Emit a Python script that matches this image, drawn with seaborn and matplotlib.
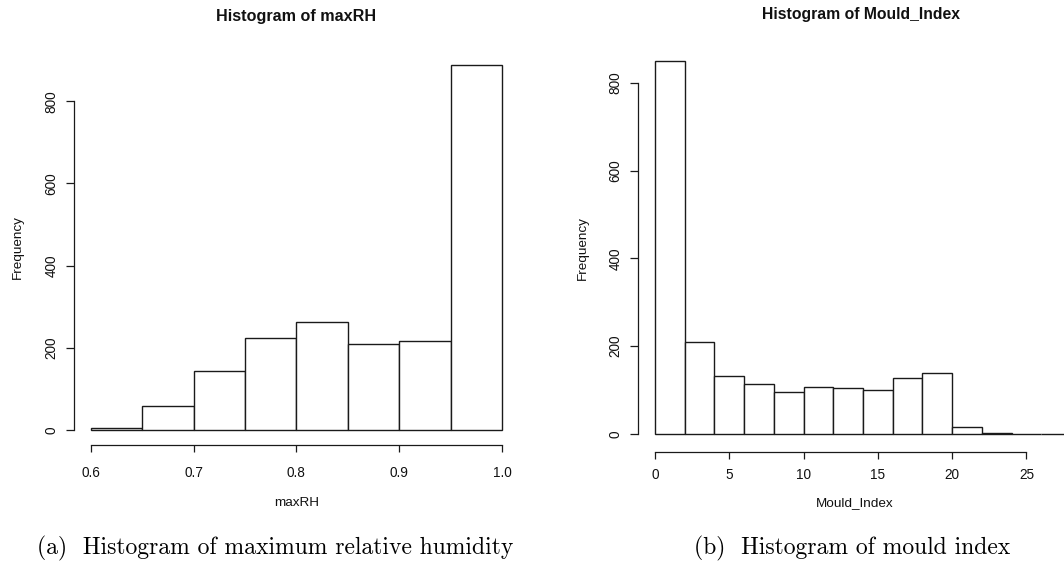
import numpy as np
import matplotlib
matplotlib.use("Agg")
import matplotlib.pyplot as plt
import seaborn as sns

# ---- data ----
rh_edges = [0.60, 0.65, 0.70, 0.75, 0.80, 0.85, 0.90, 0.95, 1.00]
rh_counts = [4, 59, 143, 223, 263, 208, 216, 889]
rh_ticks = [0.6, 0.7, 0.8, 0.9, 1.0]
rh_tick_labels = ["0.6", "0.7", "0.8", "0.9", "1.0"]

mi_edges = [0, 2, 4, 6, 8, 10, 12, 14, 16, 18, 20, 22, 24, 26, 28]
mi_counts = [849, 210, 132, 114, 95, 108, 105, 101, 127, 139, 16, 2, 0, 0]
mi_ticks = [0, 5, 10, 15, 20, 25]
mi_tick_labels = ["0", "5", "10", "15", "20", "25"]

freq_ticks = [0, 200, 400, 600, 800]
freq_labels = ["0", "200", "400", "600", "800"]

titles = ["Histogram of maxRH", "Histogram of Mould_Index"]
xlabels = ["maxRH", "Mould_Index"]
captions = ["(a)  Histogram of maximum relative humidity", "(b)  Histogram of mould index"]

sns.set_theme(style="ticks")
plt.rcParams["font.family"] = ["Liberation Sans", "DejaVu Sans"]

W, H = 1064, 573
fig = plt.figure(figsize=(W / 100, H / 100), dpi=100)
fig.patch.set_facecolor("white")


def px_axes(left, top, right, bottom):
    return fig.add_axes([left / W, 1 - bottom / H, (right - left) / W, (bottom - top) / H])


ax1 = px_axes(74.3, 50.0, 518.5, 444.6)
ax2 = px_axes(638.4, 46.4, 1087.7, 452.3)

panels = [
    (ax1, rh_edges, rh_counts, rh_ticks, rh_tick_labels, (0.584, 1.016), (-35.6, 924.6), 10.0),
    (ax2, mi_edges, mi_counts, mi_ticks, mi_tick_labels, (-1.12, 29.12), (-41.7, 883.0), 6.0),
]

edge_col = "#1a1a1a"
for ax, edges, counts, ticks, tlabels, xlim, ylim, xpad in panels:
    edges_a = np.asarray(edges, dtype=float)
    centers = (edges_a[:-1] + edges_a[1:]) / 2
    sns.histplot(x=centers, weights=counts, bins=edges, ax=ax, color="white",
                 edgecolor=edge_col, linewidth=1.0, alpha=1.0, fill=True)
    ax.set_facecolor("white")
    ax.set_xlim(*xlim)
    ax.set_ylim(*ylim)
    for s in ["top", "right"]:
        ax.spines[s].set_visible(False)
    for s in ["left", "bottom"]:
        ax.spines[s].set_color(edge_col)
        ax.spines[s].set_linewidth(0.9)
    ax.spines["bottom"].set_bounds(ticks[0], ticks[-1])
    ax.spines["left"].set_bounds(freq_ticks[0], freq_ticks[-1])
    ax.set_xticks(ticks)
    ax.set_xticklabels(tlabels)
    ax.set_yticks(freq_ticks)
    ax.set_yticklabels(freq_labels)
    ax.tick_params(axis="x", length=5.2, width=0.9, color=edge_col, pad=xpad,
                   labelsize=9.8, labelcolor="#111111")
    ax.tick_params(axis="y", length=5.8, width=0.9, color=edge_col, pad=5.5,
                   labelsize=9.8, labelcolor="#111111", labelrotation=90)
    for lab in ax.get_yticklabels():
        lab.set_verticalalignment("center")
    ax.grid(False)

# axis labels
ax1.set_xlabel(xlabels[0], fontsize=9.7, color="#111111")
ax1.xaxis.set_label_coords(0.5, (444.6 - 503) / 394.6)
ax1.xaxis.label.set_verticalalignment("center")
ax1.set_ylabel("Frequency", fontsize=9.7, color="#111111")
ax1.yaxis.set_label_coords((18 - 74.3) / 444.2, 0.5)
ax1.yaxis.label.set_verticalalignment("center")

ax2.set_xlabel(xlabels[1], fontsize=9.7, color="#111111")
ax2.xaxis.set_label_coords((855 - 638.4) / 449.3, (452.3 - 503) / 405.9)
ax2.xaxis.label.set_verticalalignment("center")
ax2.set_ylabel("Frequency", fontsize=9.7, color="#111111")
ax2.yaxis.set_label_coords((583 - 638.4) / 449.3, 0.504)
ax2.yaxis.label.set_verticalalignment("center")

# titles
fig.text(296 / W, 1 - 16 / H, titles[0], ha="center", va="center",
         fontsize=11.6, fontweight="bold", color="#111111")
fig.text(861 / W, 1 - 15 / H, titles[1], ha="center", va="center",
         fontsize=11.3, fontweight="bold", color="#111111")

# captions (LaTeX-like serif)
fig.text(275 / W, 1 - 548 / H, captions[0], ha="center", va="center",
         fontsize=17.0, family=["cmr10", "DejaVu Serif"], color="black")
fig.text(852 / W, 1 - 548 / H, captions[1], ha="center", va="center",
         fontsize=17.0, family=["cmr10", "DejaVu Serif"], color="black")

fig.savefig("out.png", dpi=100, facecolor="white")
